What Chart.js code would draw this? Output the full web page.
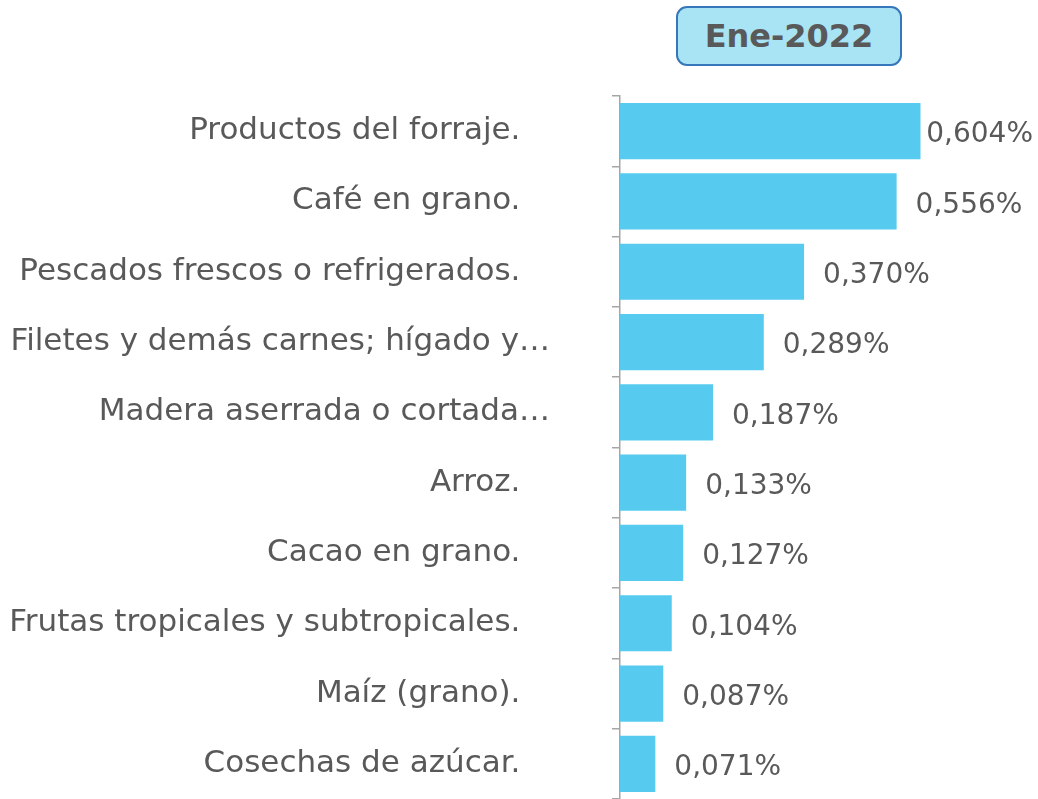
<!DOCTYPE html>
<html>
<head>
<meta charset="utf-8">
<script src="https://cdn.jsdelivr.net/npm/chart.js@4/dist/chart.umd.min.js"></script>
<style>
  html, body { margin:0; padding:0; background:#fff; }
  #wrap { position:relative; width:1038px; height:799px; }
  #title {
    position:absolute; left:676px; top:6px; width:222px; height:56px;
    border:2px solid #3677BB; border-radius:11px; background:#A9E4F5;
    font: bold 32px 'DejaVu Sans', sans-serif; color:#595959;
    display:flex; align-items:center; justify-content:center;
  }
</style>
</head>
<body>
<div id="wrap">
  <canvas id="mainChart" width="1038" height="799"></canvas>
  <div id="title">Ene-2022</div>
</div>
<script>
// chart data
const categories = [
  'Productos del forraje.',
  'Café en grano.',
  'Pescados frescos o refrigerados.',
  'Filetes y demás carnes; hígado y…',
  'Madera aserrada o cortada…',
  'Arroz.',
  'Cacao en grano.',
  'Frutas tropicales y subtropicales.',
  'Maíz (grano).',
  'Cosechas de azúcar.'
];
const values = [0.604, 0.556, 0.370, 0.289, 0.187, 0.133, 0.127, 0.104, 0.087, 0.071];
const valueLabels = ['0,604%', '0,556%', '0,370%', '0,289%', '0,187%', '0,133%', '0,127%', '0,104%', '0,087%', '0,071%'];

const FONT = "'DejaVu Sans', sans-serif";
const TEXT = '#595959';

const valueLabelPlugin = {
    id: 'valueLabels',
    afterDatasetsDraw: (chart) => {
        const ctx = chart.ctx;
        const meta = chart.getDatasetMeta(0);
        ctx.save();
        ctx.font = '28px ' + FONT;
        ctx.fillStyle = TEXT;
        ctx.textAlign = 'left';
        ctx.textBaseline = 'middle';
        meta.data.forEach((bar, i) => {
            const w = ctx.measureText(valueLabels[i]).width;
            // keep the label inside the canvas, like the original does for the longest bar
            const x = Math.min(bar.x + 19, chart.width - w - 5);
            ctx.fillText(valueLabels[i], x, bar.y + 4);
        });
        ctx.restore();
    }
};

new Chart(document.getElementById('mainChart'), {
    type: 'bar',
    data: {
        labels: categories,
        datasets: [{
            data: values,
            backgroundColor: '#56CBEF',
            borderWidth: 0,
            barPercentage: 0.8,
            categoryPercentage: 1.0
        }]
    },
    options: {
        indexAxis: 'y',
        responsive: false,
        animation: false,
        layout: { padding: { top: 96, bottom: 0, left: 0, right: 20 } },
        scales: {
            x: { display: false, min: 0, max: 0.8 },
            y: {
                afterFit: (scale) => { scale.width = 620; scale.paddingTop = 0; scale.paddingBottom = 0; },
                border: { display: true, color: '#A6A6A6', width: 1.5 },
                grid: { drawOnChartArea: false, drawTicks: true, tickLength: 8, color: '#A6A6A6', lineWidth: 1.5 },
                ticks: {
                    padding: 62,
                    color: TEXT,
                    font: { size: 31, family: FONT },
                    // labels ending in ellipsis sit a bit further right in the original
                    callback: function(v) {
                        const t = this.getLabelForValue(v);
                        return t.endsWith('…') ? t : t + '\u00a0\u00a0\u00a0';
                    }
                }
            }
        },
        plugins: { legend: { display: false }, tooltip: { enabled: false } }
    },
    plugins: [valueLabelPlugin]
});
</script>
</body>
</html>
